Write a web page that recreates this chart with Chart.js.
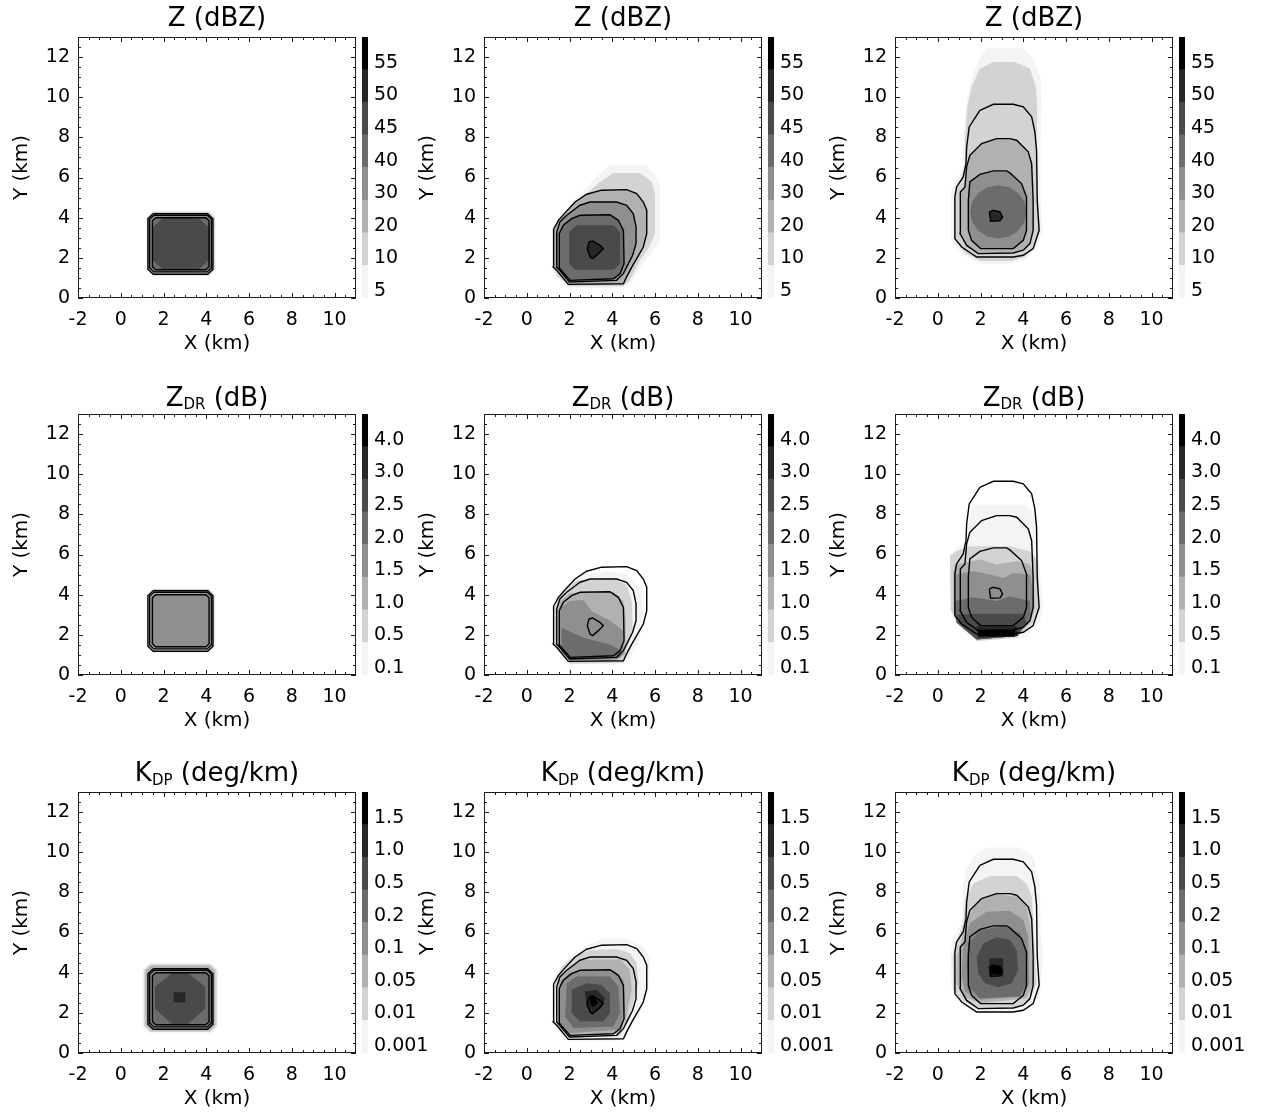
<!DOCTYPE html>
<html>
<head>
<meta charset="utf-8">
<script src="https://cdn.jsdelivr.net/npm/chart.js@4.4.1/dist/chart.umd.min.js"></script>
<style>
  html, body { margin: 0; padding: 0; background: #fff; }
  #wrap { position: relative; width: 1261px; height: 1116px; overflow: hidden; background: #fff; }
  #wrap canvas { position: absolute; }
</style>
</head>
<body>
<div id="wrap"></div>
<script>
// ---------- axes ----------
const xTickValues = [-2, 0, 2, 4, 6, 8, 10];
const yTickValues = [0, 2, 4, 6, 8, 10, 12];
const xRange = [-2, 11];
const yRange = [0, 13];
const minorStep = 0.5;

// ---------- colour bar levels (lower bound of each band, light to dark) ----------
const zLevelLabels   = ['5', '10', '20', '30', '40', '45', '50', '55'];
const zdrLevelLabels = ['0.1', '0.5', '1.0', '1.5', '2.0', '2.5', '3.0', '4.0'];
const kdpLevelLabels = ['0.001', '0.01', '0.05', '0.1', '0.2', '0.5', '1.0', '1.5'];
const grayShades = ['#f4f4f4', '#d3d3d3', '#b1b1b1', '#8f8f8f', '#6c6c6c', '#4a4a4a', '#272727', '#000000'];

// ---------- reflectivity contour lines (km), one set per time ----------
const contoursT0 = [
  [[1.52,4.20],[4.06,4.20],[4.31,3.95],[4.31,1.43],[4.06,1.18],[1.52,1.18],[1.27,1.43],[1.27,3.95]],
  [[1.55,4.12],[4.04,4.12],[4.24,3.92],[4.24,1.50],[4.04,1.30],[1.55,1.30],[1.35,1.50],[1.35,3.92]],
  [[1.63,4.00],[3.98,4.00],[4.13,3.85],[4.13,1.56],[3.98,1.41],[1.63,1.41],[1.48,1.56],[1.48,3.85]]
];
const contoursT1 = [
  [[1.27,3.46],[1.48,3.87],[1.87,4.34],[2.26,4.78],[2.80,5.17],[3.50,5.37],[4.67,5.40],[5.14,5.20],[5.45,4.78],[5.61,4.37],[5.61,3.21],[5.45,2.54],[5.14,1.96],[4.91,1.54],[4.67,1.05],[4.52,0.71],[1.94,0.68],[1.40,1.38],[1.24,1.54],[1.24,3.21]],
  [[1.40,3.29],[1.55,3.79],[1.87,4.12],[2.18,4.37],[2.49,4.62],[2.96,4.78],[4.20,4.78],[4.67,4.62],[4.98,4.20],[5.11,3.54],[5.11,2.71],[4.95,2.13],[4.67,1.54],[4.52,1.21],[4.20,0.88],[1.99,0.80],[1.48,1.46],[1.40,1.54]],
  [[1.52,3.21],[1.71,3.62],[2.10,3.95],[2.49,4.12],[3.89,4.15],[4.28,3.87],[4.52,3.37],[4.55,1.71],[4.36,1.21],[4.05,0.96],[2.02,0.88],[1.55,1.46],[1.52,1.54]],
  [[2.91,2.79],[3.08,2.84],[3.42,2.62],[3.58,2.46],[3.35,2.21],[3.08,1.96],[2.96,2.04],[2.83,2.46]]
];
const contoursT2 = [
  [[1.97,9.35],[2.60,9.65],[3.53,9.65],[4.00,9.52],[4.39,9.02],[4.54,8.27],[4.62,7.36],[4.65,4.87],[4.74,3.37],[4.46,2.46],[4.00,2.13],[3.53,2.04],[1.82,2.04],[1.12,2.54],[0.80,2.96],[0.80,5.03],[0.88,5.53],[1.19,6.03],[1.32,6.69],[1.35,7.52],[1.47,8.52]],
  [[2.75,7.94],[3.37,7.94],[3.69,7.86],[4.23,7.28],[4.39,6.69],[4.46,4.87],[4.46,3.37],[4.31,2.71],[4.00,2.38],[3.53,2.24],[1.89,2.21],[1.35,2.62],[1.04,3.21],[1.04,4.87],[1.07,5.28],[1.27,5.53],[1.35,6.53],[1.50,7.11],[2.05,7.69]],
  [[2.60,6.33],[3.22,6.33],[3.37,6.23],[3.92,5.70],[4.15,5.03],[4.15,3.37],[4.00,2.87],[3.53,2.46],[2.00,2.46],[1.58,2.87],[1.43,3.37],[1.43,4.87],[1.50,5.78],[1.97,6.16]],
  [[2.41,4.29],[2.60,4.37],[2.91,4.29],[3.03,4.04],[2.91,3.84],[2.47,3.82]]
];

// ---------- filled fields: [band index, outline in km] ----------
const zFillsT0 = [
  [0, [[1.50,4.34],[4.14,4.34],[4.44,4.04],[4.44,1.38],[4.14,1.08],[1.50,1.08],[1.20,1.38],[1.20,4.04]]],
  [1, [[1.50,4.30],[4.12,4.30],[4.40,4.02],[4.40,1.40],[4.12,1.12],[1.50,1.12],[1.23,1.40],[1.23,4.02]]],
  [2, contoursT0[0]],
  [3, contoursT0[1]],
  [4, contoursT0[2]],
  [5, [[1.98,4.00],[3.63,4.00],[4.13,3.50],[4.13,1.91],[3.63,1.41],[1.98,1.41],[1.48,1.91],[1.48,3.50]]]
];
const zFillsT1 = [
  [0, [[3.89,6.61],[5.61,6.61],[6.07,6.03],[6.23,5.45],[6.23,2.87],[5.84,2.21],[5.45,1.71],[4.91,0.80],[4.52,0.51],[1.94,0.51],[1.40,1.05],[1.21,1.54],[1.21,3.37],[1.48,3.95],[2.02,4.62],[2.80,5.53],[3.42,6.20]]],
  [1, [[4.05,6.23],[5.30,6.23],[5.84,5.78],[6.00,5.20],[6.00,3.21],[5.69,2.46],[5.30,1.88],[4.83,0.88],[4.52,0.58],[1.99,0.58],[1.40,1.13],[1.27,1.54],[1.27,3.37],[1.55,3.95],[2.10,4.53],[2.80,5.20],[3.42,5.78]]],
  [2, contoursT1[0]],
  [3, contoursT1[1]],
  [4, contoursT1[2]],
  [5, [[2.33,3.62],[4.05,3.62],[4.36,3.29],[4.36,1.71],[4.08,1.41],[2.26,1.41],[1.99,1.71],[1.99,3.29]]],
  [6, contoursT1[3]]
];
const zFillsT2 = [
  [0, [[2.28,12.46],[4.00,12.46],[4.46,11.93],[4.81,11.01],[4.85,9.85],[4.81,8.19],[4.81,4.87],[4.90,3.37],[4.70,2.62],[4.15,1.96],[3.45,1.71],[1.97,1.71],[1.19,2.13],[0.65,2.87],[0.62,5.37],[0.88,5.86],[1.16,6.53],[1.19,7.86],[1.27,9.19],[1.50,10.68],[1.82,11.68]]],
  [1, [[2.60,11.76],[3.61,11.76],[4.31,11.43],[4.59,10.51],[4.65,9.35],[4.62,7.36],[4.70,4.87],[4.78,3.37],[4.54,2.54],[4.07,2.04],[3.45,1.84],[1.97,1.84],[1.27,2.24],[0.80,2.87],[0.76,5.20],[1.04,5.78],[1.26,6.53],[1.27,7.86],[1.38,9.52],[1.58,10.51],[1.97,11.43]]],
  [2, contoursT2[1]],
  [3, contoursT2[2]],
  [4, [[4.15,4.29],[4.05,4.80],[3.76,5.23],[3.34,5.52],[2.83,5.62],[2.32,5.52],[1.90,5.23],[1.61,4.80],[1.51,4.29],[1.61,3.78],[1.90,3.35],[2.32,3.06],[2.83,2.96],[3.34,3.06],[3.76,3.35],[4.05,3.78]]],
  [6, contoursT2[3]]
];

const zdrFillsT0 = [
  [0, [[1.50,4.34],[4.14,4.34],[4.44,4.04],[4.44,1.38],[4.14,1.08],[1.50,1.08],[1.20,1.38],[1.20,4.04]]],
  [1, [[1.52,4.28],[4.10,4.28],[4.38,4.00],[4.38,1.42],[4.10,1.14],[1.52,1.14],[1.25,1.42],[1.25,4.00]]],
  [2, [[1.55,4.16],[4.05,4.16],[4.28,3.93],[4.28,1.47],[4.05,1.24],[1.55,1.24],[1.31,1.47],[1.31,3.93]]],
  [3, [[1.60,4.06],[4.00,4.06],[4.18,3.88],[4.18,1.53],[4.00,1.36],[1.60,1.36],[1.42,1.53],[1.42,3.88]]]
];
const zdrFillsT1 = [
  [0, [[1.40,3.84],[1.87,4.50],[2.65,5.00],[3.89,5.17],[4.67,5.00],[5.30,4.34],[5.45,3.34],[5.30,1.85],[4.83,0.86],[4.52,0.53],[2.02,0.53],[1.40,1.19],[1.24,1.52],[1.27,3.34]]],
  [1, [[1.63,4.17],[2.33,4.70],[4.05,4.80],[4.67,4.50],[4.91,3.68],[4.95,2.35],[4.67,1.19],[4.52,0.61],[2.02,0.56],[1.32,1.44],[1.32,3.34]]],
  [2, [[1.55,3.68],[2.02,4.09],[4.05,4.14],[4.52,3.68],[4.64,2.68],[4.59,1.03],[4.20,0.73],[2.02,0.70],[1.48,1.36],[1.48,3.34]]],
  [3, [[1.55,3.34],[2.02,3.68],[2.65,3.74],[3.04,3.18],[3.89,2.72],[4.52,2.19],[4.52,1.03],[4.20,0.78],[2.02,0.73],[1.55,1.36]]],
  [4, [[1.63,2.35],[2.65,1.85],[3.89,1.52],[4.44,1.19],[4.36,0.86],[2.02,0.78],[1.63,1.19]]]
];
const zdrFillsT2 = [
  [0, [[1.66,8.48],[4.15,8.48],[4.54,7.98],[4.70,6.66],[4.78,5.00],[4.93,3.34],[4.78,2.68],[4.15,1.85],[1.82,1.69],[0.88,2.68],[0.60,3.34],[0.57,5.99],[0.88,6.32],[1.35,6.66],[1.50,7.98]]],
  [1, [[0.88,6.16],[1.50,6.41],[3.37,6.41],[4.31,6.16],[4.70,5.66],[4.74,3.34],[4.46,2.60],[3.69,1.85],[1.82,1.69],[0.88,2.60],[0.60,3.26],[0.57,5.91]]],
  [2, [[0.80,5.50],[1.97,5.75],[2.75,5.50],[3.69,5.66],[4.31,5.50],[4.49,5.00],[4.54,3.34],[4.31,2.60],[3.69,1.94],[1.82,1.77],[0.88,2.60],[0.73,3.26],[0.73,5.17]]],
  [3, [[0.80,5.00],[1.66,5.17],[2.44,5.00],[3.06,4.83],[3.53,5.08],[4.31,5.00],[4.43,4.34],[4.46,3.34],[4.23,2.60],[3.69,1.94],[1.82,1.77],[0.88,2.60],[0.76,3.26]]],
  [4, [[0.80,3.68],[1.66,3.87],[2.75,3.68],[3.37,3.92],[4.31,3.68],[4.34,3.01],[4.15,2.52],[3.69,1.94],[1.82,1.77],[0.88,2.60],[0.80,3.18]]],
  [5, [[0.88,3.01],[1.97,3.05],[4.00,3.05],[4.15,2.60],[3.69,1.94],[1.82,1.77],[0.96,2.60]]],
  [6, [[1.82,2.43],[3.69,2.43],[3.76,1.94],[1.89,1.85]]],
  [7, [[1.89,2.25],[3.61,2.25],[3.61,1.92],[1.89,1.92]]]
];

const kdpFillsT0 = [
  [0, [[1.35,4.50],[4.21,4.50],[4.56,4.15],[4.56,1.33],[4.21,0.98],[1.35,0.98],[1.00,1.33],[1.00,4.15]]],
  [1, [[1.38,4.42],[4.18,4.42],[4.48,4.12],[4.48,1.35],[4.18,1.05],[1.38,1.05],[1.08,1.35],[1.08,4.12]]],
  [2, [[1.41,4.35],[4.15,4.35],[4.40,4.10],[4.40,1.37],[4.15,1.12],[1.41,1.12],[1.16,1.37],[1.16,4.10]]],
  [3, contoursT0[0]],
  [4, [[1.60,4.02],[4.00,4.02],[4.13,3.89],[4.13,1.54],[4.00,1.41],[1.60,1.41],[1.48,1.54],[1.48,3.89]]],
  [5, [[2.45,4.02],[3.10,4.02],[3.95,3.30],[3.95,2.20],[3.10,1.41],[2.45,1.41],[1.60,2.20],[1.60,3.30]]],
  [6, [[2.47,3.03],[3.02,3.03],[3.02,2.53],[2.47,2.53]]]
];
const kdpFillsT1 = [
  [0, [[1.71,4.47],[2.65,5.30],[3.58,5.71],[4.67,5.71],[5.45,5.30],[5.76,4.64],[5.69,3.15],[5.30,1.99],[4.67,0.83],[4.20,0.58],[2.02,0.58],[1.40,1.16],[1.24,1.66],[1.27,3.64]]],
  [1, [[1.63,4.30],[2.18,4.80],[2.96,5.13],[4.20,5.18],[4.83,4.97],[5.14,4.47],[5.22,3.48],[4.98,2.48],[4.67,1.49],[4.36,0.83],[2.02,0.75],[1.40,1.32],[1.32,3.48]]],
  [2, [[1.55,3.81],[2.02,4.30],[2.65,4.64],[4.36,4.67],[4.83,4.14],[4.91,3.15],[4.67,1.82],[4.36,0.99],[2.02,0.86],[1.48,1.49],[1.48,3.48]]],
  [3, [[1.55,3.48],[1.94,3.97],[2.65,4.14],[4.05,4.14],[4.52,3.64],[4.59,2.15],[4.36,1.16],[2.02,0.99],[1.55,1.49]]],
  [4, [[1.87,3.48],[2.33,3.81],[3.89,3.81],[4.28,3.31],[4.36,1.99],[4.05,1.32],[2.18,1.24],[1.79,1.82]]],
  [5, [[2.10,3.15],[2.80,3.48],[3.50,3.39],[3.89,2.98],[3.89,1.99],[3.58,1.57],[2.49,1.57],[2.10,1.99]]],
  [6, [[2.72,3.06],[3.27,3.15],[3.66,2.73],[3.50,2.24],[3.04,1.90],[2.80,2.32]]],
  [7, [[2.93,2.81],[3.19,2.78],[3.35,2.48],[3.08,2.28],[2.96,2.48]]]
];
const kdpFillsT2 = [
  [0, [[1.66,9.77],[2.28,10.23],[3.84,10.23],[4.46,9.77],[4.78,8.44],[4.81,5.96],[4.93,4.80],[4.78,2.98],[4.31,2.24],[3.45,1.99],[1.97,1.99],[1.19,2.32],[0.65,3.15],[0.57,4.80],[0.73,5.79],[1.12,6.46],[1.19,8.44],[1.35,9.27]]],
  [1, [[1.66,8.44],[2.44,8.81],[3.69,8.81],[4.15,8.44],[4.39,7.78],[4.46,6.79],[4.54,5.13],[4.62,3.48],[4.31,2.65],[3.69,2.24],[1.97,2.24],[1.19,2.57],[0.73,3.15],[0.69,4.80],[0.96,5.79],[1.19,6.46],[1.27,7.62]]],
  [2, [[1.82,7.53],[2.75,7.91],[3.69,7.78],[4.15,7.28],[4.31,6.46],[4.39,5.13],[4.46,3.48],[4.15,2.73],[1.97,2.48],[1.19,2.81],[0.88,3.48],[0.88,4.80],[1.12,5.63],[1.35,6.62]]],
  [3, [[1.50,6.46],[2.28,7.04],[3.37,7.09],[4.00,6.62],[4.23,5.79],[4.28,3.48],[4.00,2.81],[1.97,2.65],[1.27,3.06],[1.12,3.81],[1.16,5.13]]],
  [4, [[1.43,5.46],[1.97,6.13],[3.06,6.32],[3.84,5.96],[4.15,5.13],[4.15,3.48],[3.84,2.81],[1.97,2.73],[1.43,3.31],[1.35,4.30]]],
  [5, [[1.82,4.80],[2.13,5.46],[2.75,5.76],[3.37,5.63],[3.69,5.13],[3.76,4.14],[3.45,3.48],[2.83,3.28],[2.21,3.48],[1.89,3.97]]],
  [6, [[2.41,4.72],[3.06,4.72],[3.06,3.81],[2.41,3.81]]],
  [7, [[2.44,4.30],[2.60,4.39],[2.94,4.34],[3.03,4.11],[2.91,3.89],[2.47,3.92]]]
];

// ---------- page layout ----------
const FONT = "'DejaVu Sans', sans-serif";
const plotLeft = [78, 484, 895];
const plotTop = [37, 414, 792];
const plotW = 278, plotH = 261;
const axisW = 78, topPad = 37, xAxisH = 72;
const titleGap = [11, 8.5, 11];
const cbGap = 6, cbW = 6, cbLabelW = 70, cbLabelOffset = 0.21;

const rows = [
  { title: ['Z', '', ' (dBZ)'],      levels: zLevelLabels,   fills: [zFillsT0, zFillsT1, zFillsT2] },
  { title: ['Z', 'DR', ' (dB)'],     levels: zdrLevelLabels, fills: [zdrFillsT0, zdrFillsT1, zdrFillsT2] },
  { title: ['K', 'DP', ' (deg/km)'], levels: kdpLevelLabels, fills: [kdpFillsT0, kdpFillsT1, kdpFillsT2] }
];
const contourSets = [contoursT0, contoursT1, contoursT2];

const wrap = document.getElementById('wrap');

function ring(pts) {
  const out = pts.map(p => ({ x: p[0], y: p[1] }));
  out.push({ x: pts[0][0], y: pts[0][1] });
  return out;
}

// frame with inward major/minor ticks on all four sides
const frameTicks = {
  id: 'frameTicks',
  afterDatasetsDraw(chart) {
    const { ctx, chartArea: a, scales: { x, y } } = chart;
    ctx.save();
    ctx.strokeStyle = '#1a1a1a';
    ctx.lineWidth = 1;
    ctx.beginPath();
    const nx = Math.round((xRange[1] - xRange[0]) / minorStep);
    for (let i = 0; i <= nx; i++) {
      const v = xRange[0] + i * minorStep;
      const len = xTickValues.includes(v) ? 5 : 3;
      const px = Math.round(x.getPixelForValue(v)) + 0.5;
      ctx.moveTo(px, a.bottom); ctx.lineTo(px, a.bottom - len);
      ctx.moveTo(px, a.top); ctx.lineTo(px, a.top + len);
    }
    const ny = Math.round((yRange[1] - yRange[0]) / minorStep);
    for (let i = 0; i <= ny; i++) {
      const v = yRange[0] + i * minorStep;
      const len = yTickValues.includes(v) ? 5 : 3;
      const py = Math.round(y.getPixelForValue(v)) + 0.5;
      ctx.moveTo(a.left, py); ctx.lineTo(a.left + len, py);
      ctx.moveTo(a.right, py); ctx.lineTo(a.right - len, py);
    }
    ctx.stroke();
    ctx.strokeRect(a.left + 0.5, a.top + 0.5, a.right - a.left - 1, a.bottom - a.top - 1);
    ctx.restore();
  }
};

// panel title with optional subscript
const panelTitle = {
  id: 'panelTitle',
  afterDraw(chart, args, opts) {
    const { ctx, chartArea: a } = chart;
    const [main, sub, rest] = opts.parts;
    const bigFont = '26px ' + FONT, smallFont = '15px ' + FONT;
    ctx.save();
    ctx.fillStyle = '#000';
    ctx.textBaseline = 'alphabetic';
    ctx.font = bigFont;
    const w1 = ctx.measureText(main).width, w3 = ctx.measureText(rest).width;
    ctx.font = smallFont;
    const w2 = sub ? ctx.measureText(sub).width : 0;
    let x = (a.left + a.right) / 2 - (w1 + w2 + w3) / 2;
    const base = a.top - opts.gap;
    ctx.textAlign = 'left';
    ctx.font = bigFont; ctx.fillText(main, x, base); x += w1;
    if (sub) { ctx.font = smallFont; ctx.fillText(sub, x, base + 3.5); x += w2; }
    ctx.font = bigFont; ctx.fillText(rest, x, base);
    ctx.restore();
  }
};

function addCanvas(left, top, w, h) {
  const cv = document.createElement('canvas');
  cv.width = w; cv.height = h;
  cv.style.left = left + 'px'; cv.style.top = top + 'px';
  cv.style.width = w + 'px'; cv.style.height = h + 'px';
  wrap.appendChild(cv);
  return cv;
}

function makePanel(r, c) {
  const spec = rows[r];
  const cv = addCanvas(plotLeft[c] - axisW, plotTop[r] - topPad, axisW + plotW, topPad + plotH + xAxisH);
  const datasets = [];
  spec.fills[c].forEach(([lvl, pts], i) => datasets.push({
    data: ring(pts), showLine: true, fill: 'shape', tension: 0,
    backgroundColor: grayShades[lvl], borderColor: 'rgba(0,0,0,0)', borderWidth: 0,
    pointRadius: 0, order: 100 - i
  }));
  contourSets[c].forEach(pts => datasets.push({
    data: ring(pts), showLine: true, fill: false, tension: 0,
    borderColor: '#000', borderWidth: 1.4, pointRadius: 0, order: 0
  }));
  const tickFont = { family: FONT, size: 19 };
  const titleFont = { family: FONT, size: 20 };
  new Chart(cv, {
    type: 'scatter',
    data: { datasets },
    options: {
      responsive: false, animation: false, devicePixelRatio: 1, events: [],
      layout: { padding: { left: 0, right: 0, top: topPad, bottom: 0 } },
      plugins: {
        legend: { display: false }, tooltip: { enabled: false },
        panelTitle: { parts: spec.title, gap: titleGap[r] }
      },
      scales: {
        x: {
          type: 'linear', position: 'bottom', min: xRange[0], max: xRange[1],
          afterBuildTicks: s => { s.ticks = xTickValues.map(v => ({ value: v })); },
          afterFit: s => { s.height = xAxisH; },
          grid: { display: false, drawTicks: true, tickLength: 11 },
          border: { display: false },
          ticks: { autoSkip: false, maxRotation: 0, padding: 0, color: '#000', font: tickFont },
          title: { display: true, text: 'X (km)', color: '#000', font: titleFont, padding: { top: 0, bottom: 14 } }
        },
        y: {
          type: 'linear', position: 'left', min: yRange[0], max: yRange[1],
          afterBuildTicks: s => { s.ticks = yTickValues.map(v => ({ value: v })); },
          afterFit: s => { s.width = axisW; },
          grid: { display: false, drawTicks: true, tickLength: 8 },
          border: { display: false },
          ticks: { autoSkip: false, padding: 0, color: '#000', font: tickFont },
          title: { display: true, text: 'Y (km)', color: '#000', font: titleFont, padding: { top: 10, bottom: 0 } }
        }
      }
    },
    plugins: [frameTicks, panelTitle]
  });
}

function makeColorBar(r, c) {
  const labels = rows[r].levels;
  const cv = addCanvas(plotLeft[c] + plotW + cbGap, plotTop[r] - topPad, cbW + cbLabelW, topPad + plotH + 12);
  const datasets = grayShades.map(col => ({
    data: [1], backgroundColor: col, borderWidth: 0,
    barPercentage: 1, categoryPercentage: 1
  }));
  new Chart(cv, {
    type: 'bar',
    data: { labels: [''], datasets },
    options: {
      responsive: false, animation: false, devicePixelRatio: 1, events: [],
      layout: { padding: { left: 0, right: 0, top: topPad, bottom: 12 } },
      plugins: { legend: { display: false }, tooltip: { enabled: false } },
      scales: {
        x: { display: false, stacked: true },
        y: {
          stacked: true, position: 'right', min: 0, max: labels.length,
          afterBuildTicks: s => { s.ticks = labels.map((_, i) => ({ value: i + cbLabelOffset })); },
          afterFit: s => { s.width = cbLabelW; },
          grid: { display: false, drawTicks: true, tickLength: 6 },
          border: { display: false },
          ticks: {
            autoSkip: false, padding: 0, color: '#000', font: { family: FONT, size: 19 },
            callback: (v, i) => labels[i]
          }
        }
      }
    }
  });
}

for (let r = 0; r < 3; r++) {
  for (let c = 0; c < 3; c++) {
    makePanel(r, c);
    makeColorBar(r, c);
  }
}
</script>
</body>
</html>
